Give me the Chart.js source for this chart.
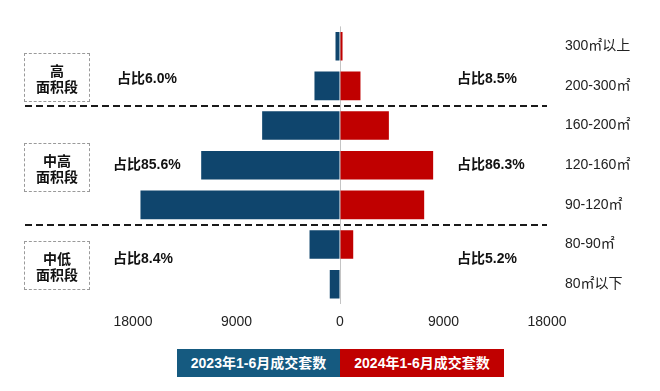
<!DOCTYPE html>
<html>
<head>
<meta charset="utf-8">
<script src="https://cdn.jsdelivr.net/npm/chart.js@4/dist/chart.umd.min.js"></script>
<style>
  html, body { margin: 0; padding: 0; background: #fff; }
  #wrap { position: relative; width: 660px; height: 391px; }
  #c { position: absolute; left: 0; top: 0; }
  .ann { position: absolute; font-family: "Liberation Sans", "Noto Sans CJK SC", sans-serif; font-weight: bold; color: #111; white-space: nowrap; }
  .box { position: absolute; border: 1px dashed #9a9a9a; box-sizing: border-box; display: flex; align-items: center; justify-content: center; text-align: center; font-family: "Noto Sans CJK SC", sans-serif; font-weight: bold; font-size: 14px; line-height: 16px; color: #111; white-space: pre-line; }
  .share { font-size: 14px; height: 20px; line-height: 20px; }
  .share .cn { font-family: "Noto Sans CJK SC", sans-serif; }
  .leg { position: absolute; top: 349px; height: 28px; line-height: 28px; text-align: center; color: #fff; font-family: "Liberation Sans", "Noto Sans CJK SC", sans-serif; font-weight: bold; font-size: 14px; }
</style>
</head>
<body>
<div id="wrap">
  <canvas id="c" width="660" height="391"></canvas>
</div>
<script>
// ---- data ----
const categories = ['300㎡以上', '200-300㎡', '160-200㎡', '120-160㎡', '90-120㎡', '80-90㎡', '80㎡以下'];
const sales2023 = [390, 2220, 6770, 12070, 17350, 2650, 890];
const sales2024 = [220, 1780, 4250, 8100, 7320, 1150, 0];
const seriesNames = ['2023年1-6月成交套数', '2024年1-6月成交套数'];
const groupNames = ['高\n面积段', '中高\n面积段', '中低\n面积段'];
const share2023 = ['6.0%', '85.6%', '8.4%'];
const share2024 = ['8.5%', '86.3%', '5.2%'];
const xTicks = [-18000, -9000, 0, 9000, 18000];

// ---- layout (not data) ----
const BLUE = '#0f456d', RED = '#c00000';
const boxTops = [53, 143, 241];
const leftShareX = [117, 113, 113];
const shareY = [77, 163, 257];
const rightShareX = 457;

const wrap = document.getElementById('wrap');
groupNames.forEach((g, i) => {
  const b = document.createElement('div');
  b.className = 'box';
  b.style.left = '24px'; b.style.top = boxTops[i] + 'px';
  b.style.width = '66px'; b.style.height = '49px';
  b.textContent = g;
  wrap.appendChild(b);
  const l = document.createElement('div');
  l.className = 'ann share';
  l.style.left = leftShareX[i] + 'px'; l.style.top = (shareY[i] - 10) + 'px';
  l.innerHTML = '<span class="cn">占比</span>' + share2023[i];
  wrap.appendChild(l);
  const r = document.createElement('div');
  r.className = 'ann share';
  r.style.left = rightShareX + 'px'; r.style.top = (shareY[i] - 10) + 'px';
  r.innerHTML = '<span class="cn">占比</span>' + share2024[i];
  wrap.appendChild(r);
});
[[177, 163, '#155a80'], [340, 164, RED]].forEach((d, i) => {
  const e = document.createElement('div');
  e.className = 'leg';
  e.style.left = d[0] + 'px'; e.style.width = d[1] + 'px'; e.style.background = d[2];
  e.textContent = seriesNames[i];
  wrap.appendChild(e);
});

const separators = {
  id: 'separators',
  afterDatasetsDraw(chart) {
    const y = chart.scales.y, ctx = chart.ctx;
    const ys = [(y.getPixelForValue(1) + y.getPixelForValue(2)) / 2,
                (y.getPixelForValue(4) + y.getPixelForValue(5)) / 2];
    ctx.save();
    ctx.strokeStyle = '#1a1a1a';
    ctx.lineWidth = 2;
    ctx.setLineDash([7, 4]);
    ys.forEach(v => {
      ctx.beginPath();
      ctx.moveTo(25, Math.round(v));
      ctx.lineTo(chart.chartArea.right, Math.round(v));
      ctx.stroke();
    });
    ctx.restore();
  }
};

new Chart(document.getElementById('c'), {
  type: 'bar',
  data: {
    labels: categories,
    datasets: [
      { label: seriesNames[0], data: sales2023.map(v => -v), backgroundColor: BLUE, grouped: false, barPercentage: 0.72, categoryPercentage: 1 },
      { label: seriesNames[1], data: sales2024, backgroundColor: RED, grouped: false, barPercentage: 0.72, categoryPercentage: 1 }
    ]
  },
  options: {
    indexAxis: 'y',
    responsive: false,
    animation: false,
    layout: { padding: { left: 133, top: 26, bottom: 61, right: 0 } },
    plugins: { legend: { display: false }, tooltip: { enabled: false } },
    scales: {
      x: {
        min: -18000, max: 18000,
        afterBuildTicks(scale) { scale.ticks = xTicks.map(v => ({ value: v })); },
        afterFit(scale) { scale.height = 26; },
        border: { display: false },
        grid: { drawTicks: false, color: c => (c.tick && c.tick.value === 0) ? '#c4c4c4' : 'rgba(0,0,0,0)', lineWidth: 1 },
        ticks: { padding: 10, color: '#222', font: { family: '"Liberation Sans", Arial, sans-serif', size: 14 }, callback: v => String(Math.abs(v)) }
      },
      y: {
        position: 'right',
        afterFit(scale) { scale.width = 113; },
        border: { display: false },
        grid: { display: false, drawTicks: false },
        ticks: { crossAlign: 'near', padding: 18, color: '#222', font: { family: '"Liberation Sans", "Noto Sans CJK SC", sans-serif', size: 14 } }
      }
    }
  },
  plugins: [separators]
});
</script>
</body>
</html>
